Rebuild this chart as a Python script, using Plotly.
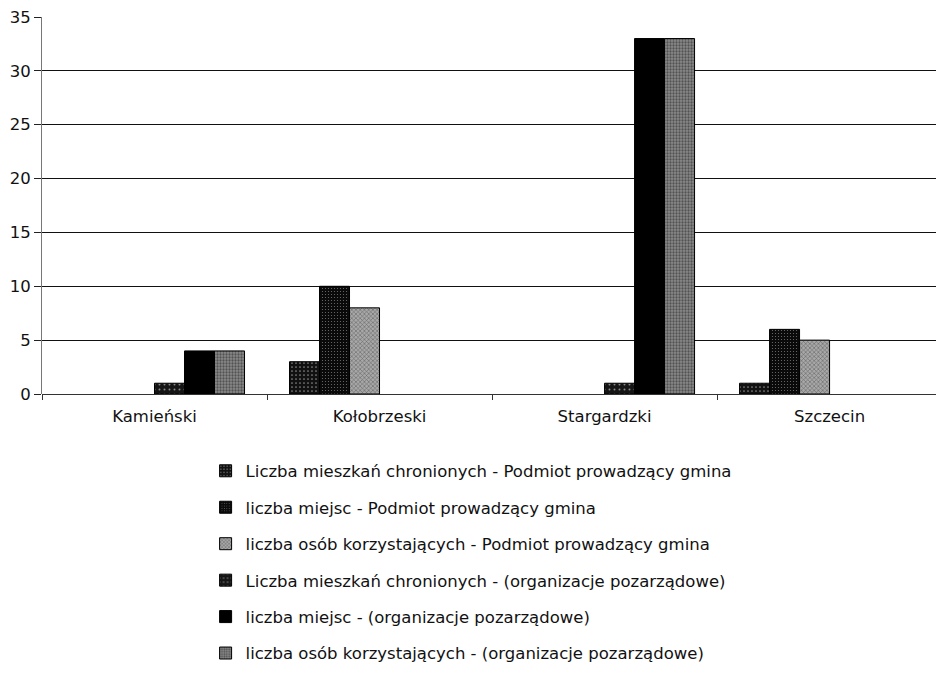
import plotly.graph_objects as go

# Powiaty
categories = ["Kamieński", "Kołobrzeski", "Stargardzki", "Szczecin"]

series_names = [
    "Liczba mieszkań chronionych - Podmiot prowadzący gmina",
    "liczba miejsc - Podmiot prowadzący gmina",
    "liczba osób korzystających - Podmiot prowadzący gmina",
    "Liczba mieszkań chronionych - (organizacje pozarządowe)",
    "liczba miejsc - (organizacje pozarządowe)",
    "liczba osób korzystających - (organizacje pozarządowe)",
]

mieszkania_gmina = [None, 3, None, 1]
miejsca_gmina = [None, 10, None, 6]
osoby_gmina = [None, 8, None, 5]
mieszkania_ngo = [1, None, 1, None]
miejsca_ngo = [4, None, 33, None]
osoby_ngo = [4, None, 33, None]

y_ticks = [0, 5, 10, 15, 20, 25, 30, 35]

series_values = [mieszkania_gmina, miejsca_gmina, osoby_gmina,
                 mieszkania_ngo, miejsca_ngo, osoby_ngo]

# fill colour, pattern shape, pattern colour, pattern size, solidity
styles = [
    ("#111111", ".", "#ffffff", 4, 0.15),
    ("#0a0a0a", ".", "#d8d8d8", 3, 0.12),
    ("#a8a8a8", "x", "#202020", 3, 0.35),
    ("#151515", ".", "#ffffff", 5, 0.12),
    ("#000000", "", "#000000", 4, 0.3),
    ("#8a8a8a", ".", "#1a1a1a", 3, 0.45),
]

fig = go.Figure()
for i, (name, vals) in enumerate(zip(series_names, series_values)):
    bg, shape, fg, size, sol = styles[i]
    fig.add_trace(go.Bar(
        x=categories,
        y=vals,
        name=name,
        legendgroup=f"g{i}",
        marker=dict(
            color=bg,
            line=dict(color="#000000", width=1),
            pattern=dict(shape=shape, fgcolor=fg, bgcolor=bg,
                         size=size, solidity=sol, fillmode="overlay"),
        ),
    ))

font_family = "DejaVu Sans, Arial, sans-serif"
label_size = 16.5

fig.update_layout(
    width=936,
    height=684,
    margin=dict(l=42, r=0, t=17, b=290),
    paper_bgcolor="#ffffff",
    plot_bgcolor="#ffffff",
    barmode="group",
    bargap=0.2,
    bargroupgap=0,
    font=dict(family=font_family, size=label_size, color="#111111"),
    showlegend=True,
    legend=dict(
        orientation="v",
        x=0.183,
        xanchor="left",
        y=-0.158,
        yanchor="top",
        traceorder="grouped",
        tracegroupgap=12,
        itemwidth=30,
        font=dict(family=font_family, size=label_size, color="#111111"),
        bgcolor="rgba(0,0,0,0)",
    ),
    xaxis=dict(
        type="category",
        range=[-0.5, 3.473],
        showgrid=False,
        ticks="outside",
        tickson="boundaries",
        ticklen=5,
        tickcolor="#333333",
        showline=False,
        ticklabelstandoff=10,
        tickfont=dict(family=font_family, size=label_size, color="#111111"),
    ),
    yaxis=dict(
        range=[0, 35],
        tickvals=y_ticks,
        showgrid=True,
        gridcolor="#111111",
        gridwidth=1,
        zeroline=True,
        zerolinecolor="#333333",
        zerolinewidth=1,
        showline=True,
        linecolor="#777777",
        linewidth=1,
        ticks="outside",
        ticklen=7,
        tickcolor="#222222",
        tickfont=dict(family=font_family, size=label_size, color="#111111"),
    ),
)

fig.write_html("out.html")
